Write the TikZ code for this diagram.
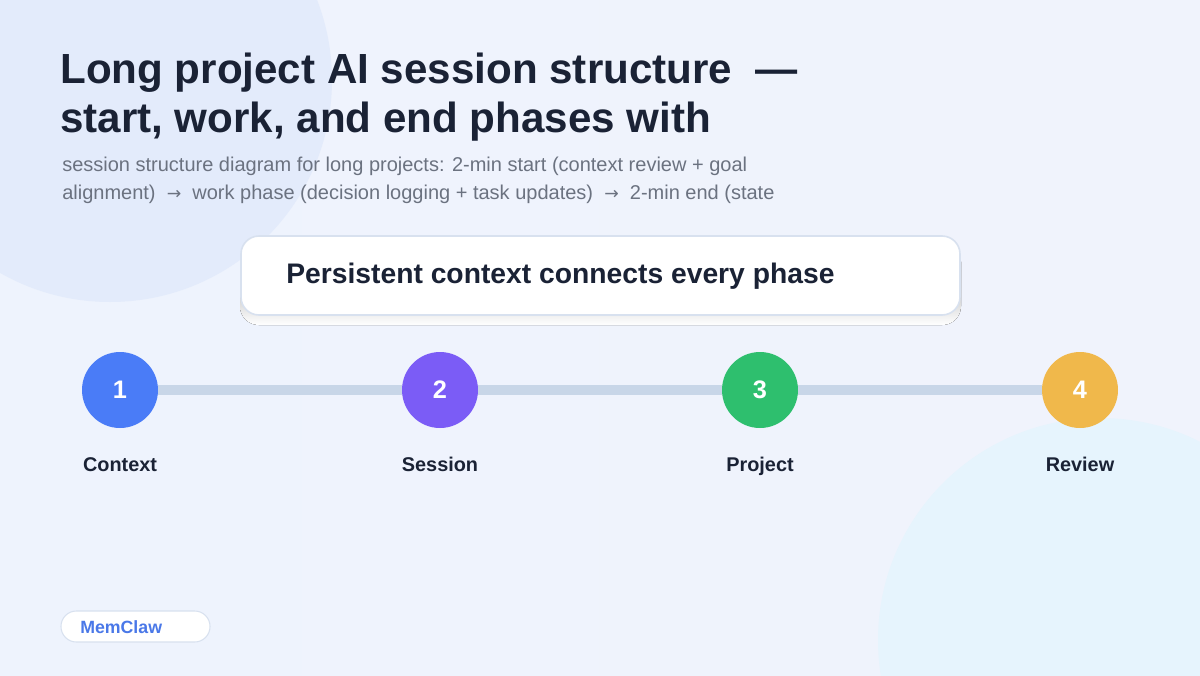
\documentclass[tikz,border=0pt]{standalone}
\usepackage{fontspec}
\setmainfont{Liberation Sans}
\newfontfamily\arrowfont{DejaVu Sans}
\definecolor{bgA}{HTML}{EEF3FD}
\definecolor{bgB}{HTML}{F0F3FC}
\definecolor{blobA}{HTML}{E3EBFB}
\definecolor{blobB}{HTML}{E6F4FD}
\definecolor{ink}{HTML}{1A2235}
\definecolor{sub}{HTML}{6B7280}
\definecolor{track}{HTML}{C8D6E8}
\definecolor{cBlue}{HTML}{4A7CF7}
\definecolor{cPurple}{HTML}{7B5CF6}
\definecolor{cGreen}{HTML}{2EBF6E}
\definecolor{cAmber}{HTML}{F0B84B}
\definecolor{edge}{HTML}{D8E1EF}
\definecolor{shade}{HTML}{DFE7F4}
\definecolor{brand}{HTML}{4A78E8}
\newcommand{\myarr}{{\arrowfont\fontsize{13}{13}\selectfont →}}
\tikzset{
  phase/.style={circle, minimum size=57pt, inner sep=0pt, text=white, font=\bfseries\fontsize{19}{19}\selectfont},
  plabel/.style={anchor=base, text=ink, font=\bfseries\fontsize{14.9}{14.9}\selectfont},
  titletxt/.style={anchor=base west, inner sep=0, text=ink, font=\bfseries\fontsize{31.6}{31.6}\selectfont},
  subtxt/.style={anchor=base west, inner sep=0, text=sub, font=\fontsize{15}{15}\selectfont},
}
\begin{document}
\begin{tikzpicture}[x=0.75pt,y=-0.75pt]
\useasboundingbox (0,0) rectangle (1200,675);
\fill[left color=bgA, right color=bgB] (0,0) rectangle (1200,675);
\begin{scope}
\clip (0,0) rectangle (1200,675);
\fill[blobA] (110,80) circle (222);
\fill[blobB] (1100,640) circle (222);
\end{scope}
% title
\node[titletxt] (t1) at (60,83) {Long project AI session structure\ \ —};
\node[titletxt] (t2) at (60,132) {start, work, and end phases with};
\node[subtxt] (s1) at (62,171) {session structure diagram for long projects: 2-min start (context review + goal};
\node[subtxt] (s2) at (62,199) {alignment)\ \ \myarr\ \ work phase (decision logging + task updates)\ \ \myarr\ \ 2-min end (state};
% banner
\fill[shade, rounded corners=14pt] (240,243) rectangle (961,325);
\draw[edge, fill=white, line width=1.2pt, rounded corners=13.5pt] (241,236) rectangle (960,315);
\node[anchor=base west, inner sep=0, text=ink, font=\bfseries\fontsize{21.2}{21.2}\selectfont] (banner) at (286,283) {Persistent context connects every phase};
% phases
\node[phase, fill=cBlue] (p1) at (120,390) {1};
\node[phase, fill=cPurple] (p2) at (440,390) {2};
\node[phase, fill=cGreen] (p3) at (760,390) {3};
\node[phase, fill=cAmber] (p4) at (1080,390) {4};
\draw[track, line width=7.5pt] (p1) -- (p2);
\draw[track, line width=7.5pt] (p2) -- (p3);
\draw[track, line width=7.5pt] (p3) -- (p4);
\node[plabel] (l1) at (120,471) {Context};
\node[plabel] (l2) at (440,471) {Session};
\node[plabel] (l3) at (760,471) {Project};
\node[plabel] (l4) at (1080,471) {Review};
% brand pill
\draw[edge, fill=white, line width=0.8pt, rounded corners=11.5pt] (61,611) rectangle (210,642);
\node[anchor=base west, inner sep=0, text=brand, font=\bfseries\fontsize{13.3}{13.3}\selectfont] (brandtxt) at (80,633) {MemClaw};
\end{tikzpicture}
\end{document}
